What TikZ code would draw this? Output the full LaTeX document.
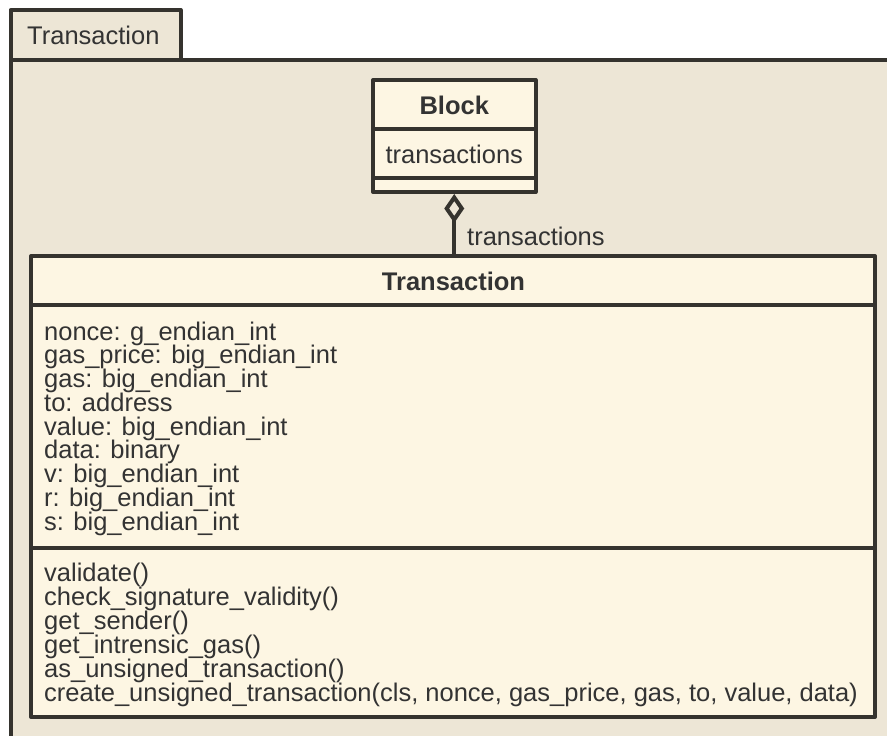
\documentclass[tikz,border=0pt]{standalone}
\usepackage{fontspec}
\setmainfont{Liberation Sans}
\usetikzlibrary{arrows.meta}

\definecolor{pkgbg}{HTML}{EDE6D6}
\definecolor{classbg}{HTML}{FDF6E3}
\definecolor{ink}{HTML}{35332E}
\definecolor{txt}{HTML}{333333}

\tikzset{
  frame/.style={draw=ink, line width=4pt, line join=round},
  classbox/.style={frame, fill=classbg, inner sep=0pt, rectangle},
  sep/.style={draw=ink, line width=4pt},
  lbl/.style={text=txt, inner sep=0pt, font=\fontsize{25.5}{23.75}\selectfont},
  line/.style={lbl, anchor=base west},
  title/.style={lbl, anchor=base, font=\fontsize{25.5}{23.75}\selectfont\bfseries},
  conn/.style={draw=ink, line width=4pt,
    {Diamond[open, fill=pkgbg, length=29pt, width=20pt]}-}
}

\begin{document}
\begin{tikzpicture}[x=1pt, y=-1pt]
  \useasboundingbox (0,0) rectangle (887,736);
  \clip (0,0) rectangle (887,736);

  % package: tab and body
  \path[frame, fill=pkgbg] (10.5,10) rectangle (180.5,59.5);
  \path[frame, fill=pkgbg] (10.5,59.5) rectangle (905,737.8);
  \node[line] (pkgname) at (27,44) {Transaction};

  % class Block
  \node[classbox, minimum width=162.5pt, minimum height=112pt] (block) at (454.25,136) {};
  \coordinate (bsep1w) at (373,129.3);  \coordinate (bsep1e) at (535.5,129.3);
  \coordinate (bsep2w) at (373,178.3);  \coordinate (bsep2e) at (535.5,178.3);
  \draw[sep] (bsep1w) -- (bsep1e);
  \draw[sep] (bsep2w) -- (bsep2e);
  \node[title] (blocktitle) at (454.25,114.3) {Block};
  \node[lbl, anchor=base] (blockattr) at (454.25,163.3) {transactions};

  % class Transaction
  \node[classbox, minimum width=844pt, minimum height=461pt] (tx) at (453,486.5) {};
  \coordinate (tsep1w) at (31,305);    \coordinate (tsep1e) at (875,305);
  \coordinate (tsep2w) at (31,547.5);  \coordinate (tsep2e) at (875,547.5);
  \draw[sep] (tsep1w) -- (tsep1e);
  \draw[sep] (tsep2w) -- (tsep2e);
  \node[title] (txtitle) at (453.5,290.7) {Transaction};

  % attributes
  \node[line] (a1) at (44,340) {nonce: g\_endian\_int};
  \node[line] (a2) at (44,363.75) {gas\_price: big\_endian\_int};
  \node[line] (a3) at (44,387.5) {gas: big\_endian\_int};
  \node[line] (a4) at (44,411.25) {to: address};
  \node[line] (a5) at (44,435) {value: big\_endian\_int};
  \node[line] (a6) at (44,458.75) {data: binary};
  \node[line] (a7) at (44,482.5) {v: big\_endian\_int};
  \node[line] (a8) at (44,506.25) {r: big\_endian\_int};
  \node[line] (a9) at (44,530) {s: big\_endian\_int};

  % operations
  \node[line] (m1) at (44,581.7) {validate()};
  \node[line] (m2) at (44,605.7) {check\_signature\_validity()};
  \node[line] (m3) at (44,629.7) {get\_sender()};
  \node[line] (m4) at (44,653.7) {get\_intrensic\_gas()};
  \node[line] (m5) at (44,677.7) {as\_unsigned\_transaction()};
  \node[line] (m6) at (44,701.7) {create\_unsigned\_transaction(cls, nonce, gas\_price, gas, to, value, data)};

  % aggregation Block <>-- Transaction
  \draw[conn] (block.south) -- (block.south |- tx.north);
  \node[line] (rolename) at (467,245) {transactions};
\end{tikzpicture}
\end{document}
